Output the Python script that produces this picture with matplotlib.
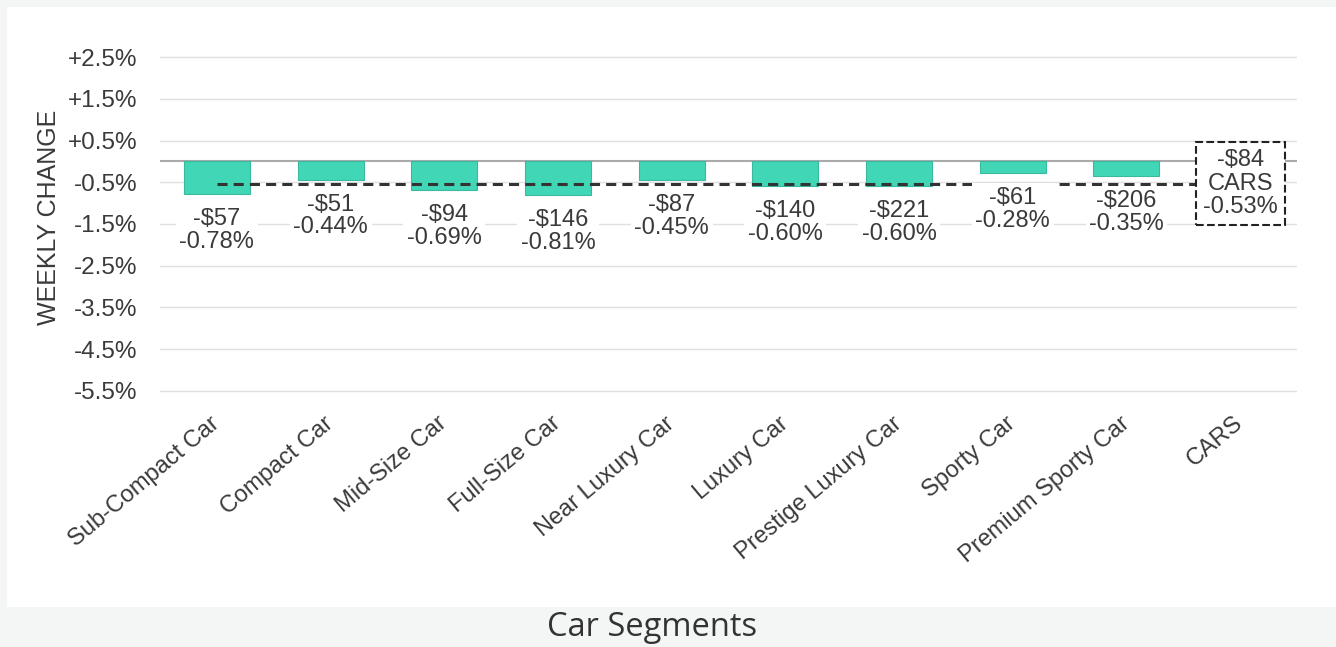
import matplotlib
matplotlib.use("Agg")
import matplotlib.pyplot as plt
from matplotlib.patches import Rectangle
import numpy as np

# data
segments = ["Sub-Compact Car", "Compact Car", "Mid-Size Car", "Full-Size Car",
            "Near Luxury Car", "Luxury Car", "Prestige Luxury Car", "Sporty Car",
            "Premium Sporty Car", "CARS"]
pct_change = [-0.78, -0.44, -0.69, -0.81, -0.45, -0.60, -0.60, -0.28, -0.35]
dollar_change = [-57, -51, -94, -146, -87, -140, -221, -61, -206]
cars_pct = -0.53
cars_dollar = -84
yticks = [2.5, 1.5, 0.5, -0.5, -1.5, -2.5, -3.5, -4.5, -5.5]
ytick_labels = ["+2.5%", "+1.5%", "+0.5%", "-0.5%", "-1.5%", "-2.5%", "-3.5%", "-4.5%", "-5.5%"]

txt = "#3a3a3a"
plt.rcParams['font.family'] = ['Liberation Sans', 'DejaVu Sans']

fig = plt.figure(figsize=(13.36, 6.47), dpi=100, facecolor="#f4f6f5")
fig.patches.append(Rectangle((7/1336, 40/647), 1 - 7/1336, 600/647,
                             transform=fig.transFigure, facecolor="white",
                             edgecolor="none", zorder=-5))

ax = fig.add_axes([0.1198, 0.3926, 0.851, 0.5224])
ax.set_zorder(2)
ax.set_facecolor("none")
x = np.arange(len(segments))

ax.bar(x[:-1], pct_change, width=0.58, color="#40d6b6", edgecolor="#3bb99e",
       linewidth=0.8, zorder=2)

ax.plot([0, 9], [cars_pct, cars_pct], color="#333333", lw=2.2,
        linestyle=(0, (3.3, 2)), zorder=3)

for xi, p, d in zip(x, pct_change, dollar_change):
    ax.annotate("-\\$%d\n%.2f%%" % (abs(d), p), xy=(xi, p), xytext=(0, -10),
                textcoords="offset points", ha="center", va="top", fontsize=17,
                color=txt, linespacing=1.05, zorder=4,
                bbox=dict(boxstyle="square,pad=0.15", facecolor="white", edgecolor="none"))

ax.text(9, cars_pct, "-\\$%d\nCARS\n%.2f%%" % (abs(cars_dollar), cars_pct),
        ha="center", va="center", fontsize=17, color=txt, linespacing=1.1, zorder=5,
        bbox=dict(boxstyle="square,pad=0.3", facecolor="white", edgecolor="#222222",
                  linestyle="--", linewidth=1.5))

ax.set_yticks(yticks)
ax.set_yticklabels(ytick_labels)
ax.set_ylim(-5.55, 2.55)
ax.set_xlim(-0.5, 9.5)
ax.yaxis.grid(True, color="#e0e0e0", lw=1)
ax.set_axisbelow(True)
ax.axhline(0, color="#aaaaaa", lw=1.5, zorder=1)
for s in ax.spines.values():
    s.set_visible(False)
ax.tick_params(length=0, labelsize=17.5, labelcolor=txt)
ax.tick_params(axis="y", pad=16.5)

ax.set_xticks(x)
ax.set_xticklabels(segments, rotation=40, ha="right", rotation_mode="anchor", va="center")
ax.tick_params(axis="x", labelsize=17, pad=20)

ax.set_ylabel("WEEKLY CHANGE", fontsize=18, color=txt, labelpad=5)
ax.yaxis.label.set_y(0.52)

fig.text(652/1336, (647-628)/647, "Car Segments", ha="center", va="center",
         fontsize=23.5, color="#333333", family=["Open Sans", "DejaVu Sans"])

fig.savefig("out.png", dpi=100, facecolor=fig.get_facecolor())
